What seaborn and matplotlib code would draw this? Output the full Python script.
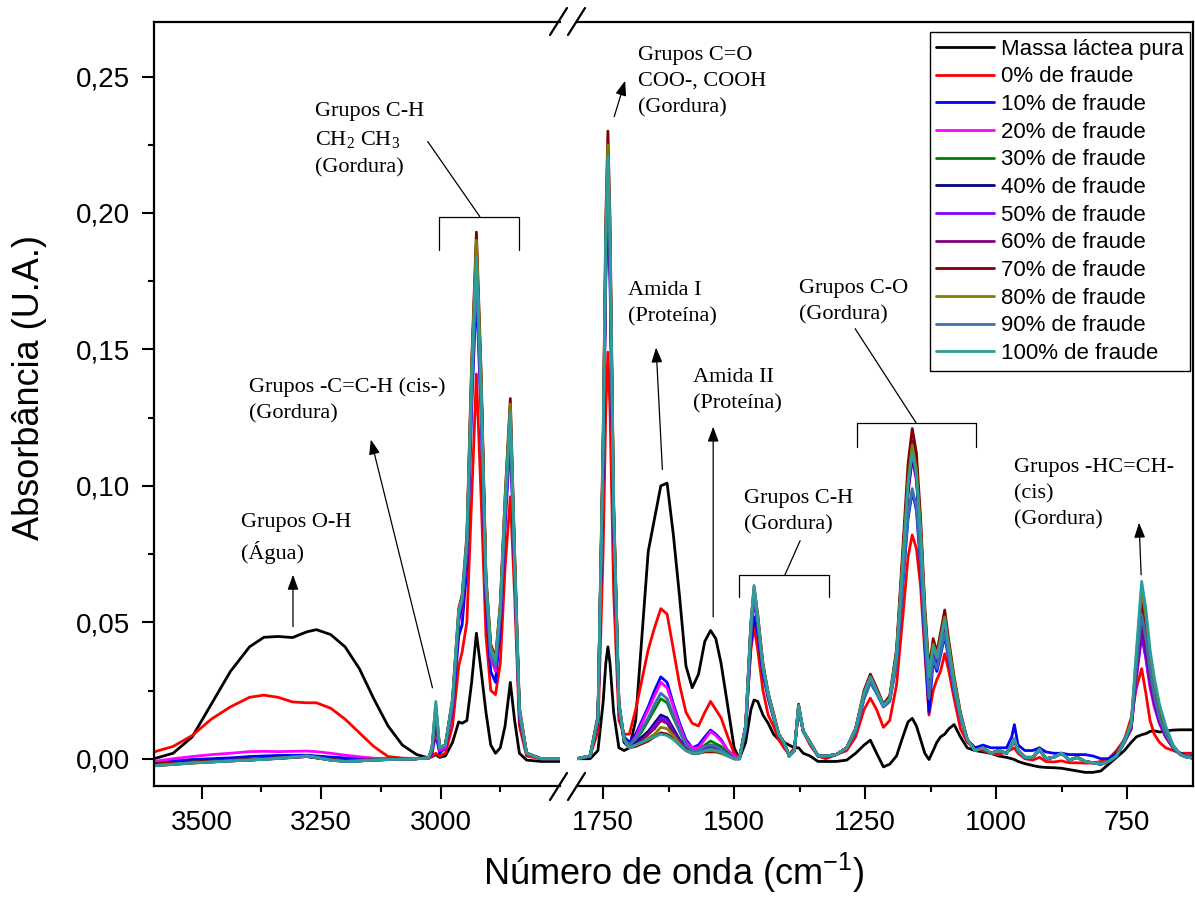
import matplotlib
matplotlib.use('Agg')
import matplotlib.pyplot as plt
import matplotlib.ticker as ticker
from matplotlib.lines import Line2D
import seaborn as sns
import pandas as pd

# numero de onda (cm-1) de cada painel
wn_esq = [3600, 3560, 3520, 3480, 3440, 3400, 3370, 3340, 3310, 3280,
          3260, 3230, 3200, 3170, 3140, 3110, 3080, 3050, 3025, 3018,
          3010, 3002, 2990, 2975, 2962, 2955, 2945, 2935, 2925, 2915,
          2905, 2895, 2885, 2875, 2865, 2854, 2845, 2835, 2820, 2790,
          2750]
wn_dir = [1800, 1775, 1760, 1750, 1745, 1741, 1737, 1730, 1720, 1710,
          1700, 1688, 1676, 1664, 1652, 1640, 1628, 1616, 1604, 1592,
          1580, 1568, 1556, 1545, 1535, 1525, 1512, 1500, 1490, 1478,
          1468, 1462, 1455, 1445, 1435, 1425, 1415, 1405, 1395, 1385,
          1377, 1368, 1355, 1340, 1325, 1305, 1285, 1268, 1252, 1240,
          1228, 1215, 1203, 1190, 1178, 1168, 1160, 1152, 1144, 1136,
          1128, 1120, 1113, 1106, 1098, 1090, 1080, 1068, 1055, 1040,
          1025, 1010, 995, 980, 970, 965, 958, 945, 930, 917,
          905, 890, 875, 860, 845, 830, 815, 800, 785, 770,
          755, 742, 732, 722, 714, 706, 698, 688, 676, 662,
          648, 635, 625]

# absorbancia - regiao 3600-2750
pura_esq = [0.000, 0.002, 0.008, 0.020, 0.032, 0.041, 0.0445, 0.0448, 0.0444, 0.0465,
            0.0473, 0.0455, 0.041, 0.033, 0.022, 0.012, 0.005, 0.0015, 0.0003, 0.0008,
            0.0015, 0.0005, 0.001, 0.006, 0.0135, 0.013, 0.014, 0.028, 0.046, 0.032,
            0.017, 0.005, 0.002, 0.004, 0.012, 0.028, 0.014, 0.002, -0.0005, -0.001,
            -0.001]
f0_esq = [0.0025, 0.0045, 0.0085, 0.0145, 0.019, 0.0225, 0.0233, 0.0225, 0.0208, 0.0205,
          0.0205, 0.0185, 0.0145, 0.0095, 0.0045, 0.0008, 0.0002, 0.0001, 0.0002, 0.0008,
          0.002, 0.001, 0.002, 0.012, 0.034, 0.039, 0.050, 0.095, 0.141, 0.095,
          0.045, 0.025, 0.0235, 0.035, 0.070, 0.096, 0.060, 0.012, 0.001, 0.000,
          0.000]
f10_esq = [-0.001, -0.0008, -0.0003, 0.0, 0.0003, 0.0008, 0.001, 0.0012, 0.0012, 0.0013,
           0.001, 0.0006, 0.0003, 0.0001, 0.0, 0.0, 0.0, 0.0, 0.0002, 0.002,
           0.009, 0.002, 0.004, 0.018, 0.045, 0.049, 0.070, 0.128, 0.172, 0.125,
           0.058, 0.032, 0.028, 0.048, 0.085, 0.118, 0.068, 0.015, 0.002, 0.000,
           0.000]
f20_esq = [-0.001, 0.0, 0.0008, 0.0015, 0.002, 0.0026, 0.0027, 0.0026, 0.0027, 0.0028,
           0.0026, 0.002, 0.0013, 0.0007, 0.0002, 0.0, 0.0, 0.0, 0.0002, 0.0025,
           0.011, 0.003, 0.004, 0.019, 0.050, 0.055, 0.075, 0.134, 0.180, 0.130,
           0.062, 0.037, 0.032, 0.052, 0.088, 0.122, 0.070, 0.016, 0.002, 0.000,
           0.000]
f30_esq = [-0.002, -0.0016, -0.0012, -0.0009, -0.0006, -0.0003, 0.0, 0.0003, 0.0006, 0.0009,
           0.0004, -0.0003, -0.0007, -0.0006, -0.0004, -0.0002, -0.0001, 0.0, 0.0003, 0.003,
           0.013, 0.004, 0.005, 0.020, 0.052, 0.057, 0.078, 0.138, 0.186, 0.136,
           0.064, 0.039, 0.034, 0.054, 0.091, 0.126, 0.072, 0.017, 0.002, 0.000,
           0.000]
f40_esq = [-0.0022, -0.0018, -0.0014, -0.001, -0.0007, -0.0004, -0.0001, 0.0002, 0.0005, 0.0008,
           0.0003, -0.0004, -0.0008, -0.0007, -0.0005, -0.0003, -0.0002, 0.0, 0.0003, 0.003,
           0.015, 0.004, 0.005, 0.020, 0.051, 0.056, 0.077, 0.137, 0.183, 0.134,
           0.063, 0.039, 0.034, 0.053, 0.090, 0.124, 0.071, 0.017, 0.002, 0.000,
           0.000]
f50_esq = [-0.0024, -0.002, -0.0015, -0.0011, -0.0008, -0.0005, -0.0002, 0.0001, 0.0004, 0.0008,
           0.0003, -0.0005, -0.0009, -0.0008, -0.0005, -0.0003, -0.0002, 0.0, 0.0003, 0.0035,
           0.016, 0.004, 0.005, 0.021, 0.052, 0.057, 0.078, 0.139, 0.185, 0.135,
           0.064, 0.039, 0.035, 0.054, 0.091, 0.125, 0.072, 0.017, 0.002, 0.000,
           0.000]
f60_esq = [-0.0026, -0.0021, -0.0016, -0.0012, -0.0008, -0.0005, -0.0002, 0.0001, 0.0005, 0.0009,
           0.0004, -0.0005, -0.001, -0.0008, -0.0005, -0.0003, -0.0002, 0.0, 0.0003, 0.0035,
           0.017, 0.004, 0.005, 0.021, 0.053, 0.058, 0.079, 0.141, 0.188, 0.137,
           0.065, 0.040, 0.035, 0.055, 0.093, 0.128, 0.073, 0.018, 0.002, 0.000,
           0.000]
f70_esq = [-0.0018, -0.0015, -0.0012, -0.0009, -0.0006, -0.0003, 0.0, 0.0003, 0.0006, 0.0009,
           0.0004, -0.0003, -0.0007, -0.0006, -0.0004, -0.0002, -0.0001, 0.0, 0.0003, 0.004,
           0.019, 0.004, 0.005, 0.022, 0.055, 0.060, 0.082, 0.145, 0.193, 0.141,
           0.067, 0.042, 0.037, 0.057, 0.096, 0.132, 0.076, 0.019, 0.002, 0.000,
           0.000]
f80_esq = [-0.0026, -0.0021, -0.0016, -0.0012, -0.0008, -0.0005, -0.0002, 0.0001, 0.0005, 0.0009,
           0.0004, -0.0005, -0.001, -0.0008, -0.0005, -0.0003, -0.0002, 0.0, 0.0003, 0.0035,
           0.018, 0.004, 0.005, 0.021, 0.054, 0.059, 0.080, 0.143, 0.190, 0.139,
           0.066, 0.041, 0.036, 0.056, 0.095, 0.130, 0.075, 0.018, 0.002, 0.000,
           0.000]
f90_esq = [-0.0025, -0.002, -0.0015, -0.0012, -0.0008, -0.0005, -0.0002, 0.0002, 0.0006, 0.001,
           0.0005, -0.0005, -0.001, -0.0008, -0.0005, -0.0003, -0.0002, 0.0, 0.0003, 0.004,
           0.020, 0.004, 0.005, 0.020, 0.053, 0.058, 0.077, 0.134, 0.178, 0.130,
           0.062, 0.038, 0.034, 0.053, 0.090, 0.124, 0.071, 0.017, 0.002, 0.000,
           0.000]
f100_esq = [-0.0025, -0.002, -0.0015, -0.0012, -0.0008, -0.0005, -0.0002, 0.0002, 0.0006, 0.001,
            0.0005, -0.0005, -0.001, -0.0008, -0.0005, -0.0003, -0.0002, 0.0, 0.0003, 0.004,
            0.021, 0.004, 0.005, 0.022, 0.054, 0.059, 0.080, 0.140, 0.184, 0.135,
            0.065, 0.040, 0.036, 0.055, 0.093, 0.127, 0.073, 0.018, 0.002, 0.000,
            0.000]

# absorbancia - regiao 1800-625
pura_dir = [0.000, 0.000, 0.003, 0.021, 0.035, 0.041, 0.035, 0.017, 0.004, 0.003,
            0.004, 0.014, 0.045, 0.076, 0.088, 0.100, 0.101, 0.082, 0.059, 0.034,
            0.026, 0.031, 0.043, 0.047, 0.044, 0.035, 0.019, 0.004, 0.000, 0.006,
            0.018, 0.0215, 0.021, 0.016, 0.013, 0.009, 0.007, 0.006, 0.005, 0.004,
            0.004, 0.002, 0.001, -0.001, -0.001, -0.001, -0.0005, 0.002, 0.005, 0.0068,
            0.002, -0.003, -0.002, 0.001, 0.008, 0.0135, 0.0148, 0.012, 0.007, 0.002,
            -0.0003, 0.003, 0.006, 0.008, 0.009, 0.011, 0.0125, 0.008, 0.004, 0.003,
            0.0025, 0.002, 0.001, 0.0005, 0.0, -0.0003, -0.001, -0.0018, -0.0025, -0.003,
            -0.0032, -0.0033, -0.0035, -0.004, -0.0045, -0.005, -0.005, -0.0045, -0.002, 0.0005,
            0.003, 0.006, 0.008, 0.0088, 0.0092, 0.010, 0.0102, 0.0098, 0.0102, 0.0105,
            0.0106, 0.0106, 0.0106]
f0_dir = [0.000, 0.001, 0.010, 0.077, 0.128, 0.149, 0.128, 0.061, 0.014, 0.009,
          0.009, 0.018, 0.029, 0.040, 0.048, 0.055, 0.053, 0.040, 0.027, 0.017,
          0.013, 0.012, 0.017, 0.021, 0.018, 0.015, 0.008, 0.002, 0.000, 0.012,
          0.040, 0.0485, 0.040, 0.025, 0.016, 0.012, 0.007, 0.004, 0.0015, 0.004,
          0.018, 0.010, 0.005, 0.001, 0.000, 0.0015, 0.003, 0.008, 0.018, 0.0222,
          0.018, 0.0115, 0.014, 0.027, 0.052, 0.074, 0.082, 0.077, 0.063, 0.039,
          0.016, 0.025, 0.029, 0.032, 0.0385, 0.032, 0.022, 0.011, 0.006, 0.004,
          0.003, 0.002, 0.0015, 0.0025, 0.0035, 0.004, 0.002, 0.000, -0.0005, 0.0005,
          -0.001, -0.0012, -0.0008, -0.0015, -0.0015, -0.0016, -0.0016, -0.001, 0.000, 0.003,
          0.007, 0.015, 0.026, 0.033, 0.024, 0.014, 0.009, 0.006, 0.004, 0.003,
          0.002, 0.002, 0.002]
f10_dir = [0.000, 0.001, 0.014, 0.107, 0.176, 0.205, 0.176, 0.084, 0.018, 0.008,
           0.006, 0.009, 0.014, 0.019, 0.025, 0.030, 0.028, 0.020, 0.013, 0.007,
           0.004, 0.005, 0.008, 0.0105, 0.009, 0.007, 0.003, 0.001, 0.000, 0.010,
           0.042, 0.052, 0.046, 0.031, 0.022, 0.015, 0.009, 0.006, 0.001, 0.003,
           0.018, 0.010, 0.006, 0.001, 0.001, 0.0015, 0.004, 0.010, 0.022, 0.028,
           0.024, 0.019, 0.021, 0.035, 0.064, 0.088, 0.098, 0.091, 0.070, 0.042,
           0.017, 0.036, 0.032, 0.038, 0.045, 0.036, 0.025, 0.015, 0.007, 0.004,
           0.005, 0.004, 0.004, 0.004, 0.008, 0.0125, 0.005, 0.003, 0.003, 0.004,
           0.0025, 0.002, 0.002, 0.0015, 0.0015, 0.0015, 0.001, 0.000, 0.000, 0.002,
           0.006, 0.011, 0.032, 0.050, 0.040, 0.028, 0.020, 0.013, 0.008, 0.004,
           0.002, 0.001, 0.001]
f20_dir = [0.000, 0.001, 0.014, 0.109, 0.181, 0.210, 0.181, 0.086, 0.019, 0.007,
           0.005, 0.008, 0.013, 0.018, 0.023, 0.028, 0.026, 0.019, 0.012, 0.006,
           0.004, 0.004, 0.007, 0.010, 0.0085, 0.0065, 0.003, 0.001, 0.000, 0.011,
           0.046, 0.058, 0.049, 0.033, 0.023, 0.016, 0.009, 0.006, 0.001, 0.003,
           0.019, 0.010, 0.006, 0.001, 0.001, 0.0015, 0.004, 0.011, 0.023, 0.029,
           0.025, 0.019, 0.022, 0.037, 0.070, 0.097, 0.110, 0.102, 0.079, 0.048,
           0.024, 0.038, 0.034, 0.040, 0.047, 0.038, 0.026, 0.015, 0.007, 0.003,
           0.004, 0.002, 0.003, 0.002, 0.005, 0.007, 0.003, 0.0005, 0.0005, 0.003,
           0.000, 0.0005, 0.002, -0.0005, 0.0005, -0.001, -0.0015, -0.0015, -0.001, 0.001,
           0.006, 0.011, 0.030, 0.046, 0.037, 0.026, 0.019, 0.013, 0.008, 0.004,
           0.0015, 0.001, 0.0005]
f30_dir = [0.000, 0.001, 0.015, 0.112, 0.185, 0.215, 0.185, 0.088, 0.019, 0.006,
           0.005, 0.007, 0.010, 0.014, 0.018, 0.022, 0.0205, 0.015, 0.010, 0.005,
           0.003, 0.003, 0.005, 0.0065, 0.0055, 0.0045, 0.002, 0.000, 0.000, 0.012,
           0.048, 0.060, 0.050, 0.033, 0.023, 0.016, 0.009, 0.006, 0.001, 0.003,
           0.019, 0.010, 0.006, 0.001, 0.001, 0.0015, 0.004, 0.011, 0.0235, 0.0295,
           0.025, 0.0195, 0.022, 0.038, 0.071, 0.099, 0.112, 0.104, 0.081, 0.050,
           0.028, 0.039, 0.035, 0.041, 0.049, 0.039, 0.027, 0.016, 0.007, 0.003,
           0.004, 0.002, 0.003, 0.002, 0.005, 0.007, 0.003, 0.0005, 0.0005, 0.0035,
           0.000, 0.0005, 0.002, -0.0005, 0.0005, -0.001, -0.0015, -0.002, -0.001, 0.001,
           0.007, 0.012, 0.035, 0.055, 0.045, 0.032, 0.023, 0.015, 0.009, 0.004,
           0.0015, 0.0005, 0.0003]
f40_dir = [0.000, 0.001, 0.014, 0.110, 0.182, 0.212, 0.182, 0.087, 0.019, 0.006,
           0.004, 0.006, 0.008, 0.010, 0.013, 0.016, 0.015, 0.011, 0.007, 0.004,
           0.0025, 0.0025, 0.004, 0.005, 0.0045, 0.0035, 0.0015, 0.000, 0.000, 0.012,
           0.047, 0.059, 0.050, 0.033, 0.023, 0.016, 0.009, 0.006, 0.001, 0.003,
           0.019, 0.010, 0.006, 0.001, 0.001, 0.0015, 0.004, 0.011, 0.023, 0.029,
           0.025, 0.0195, 0.022, 0.038, 0.071, 0.098, 0.111, 0.103, 0.080, 0.049,
           0.027, 0.039, 0.035, 0.041, 0.048, 0.039, 0.027, 0.016, 0.007, 0.003,
           0.004, 0.002, 0.003, 0.002, 0.005, 0.007, 0.003, 0.0005, 0.0005, 0.0035,
           0.000, 0.0005, 0.002, -0.0005, 0.0005, -0.001, -0.0015, -0.002, -0.001, 0.001,
           0.007, 0.012, 0.033, 0.052, 0.043, 0.031, 0.022, 0.014, 0.009, 0.004,
           0.0015, 0.0005, 0.0003]
f50_dir = [0.000, 0.001, 0.015, 0.113, 0.187, 0.218, 0.187, 0.089, 0.020, 0.007,
           0.004, 0.005, 0.007, 0.009, 0.012, 0.015, 0.014, 0.010, 0.0065, 0.0035,
           0.0025, 0.0025, 0.0035, 0.0045, 0.004, 0.003, 0.0015, 0.000, 0.000, 0.012,
           0.048, 0.060, 0.051, 0.034, 0.023, 0.016, 0.009, 0.006, 0.001, 0.003,
           0.019, 0.010, 0.006, 0.001, 0.001, 0.0015, 0.004, 0.011, 0.0235, 0.029,
           0.025, 0.0195, 0.022, 0.038, 0.072, 0.100, 0.113, 0.105, 0.082, 0.051,
           0.028, 0.040, 0.036, 0.042, 0.049, 0.040, 0.028, 0.016, 0.007, 0.003,
           0.004, 0.002, 0.003, 0.002, 0.005, 0.007, 0.003, 0.0005, 0.0005, 0.0035,
           0.000, 0.0005, 0.002, -0.0005, 0.0005, -0.001, -0.0015, -0.002, -0.001, 0.001,
           0.006, 0.011, 0.030, 0.045, 0.037, 0.027, 0.020, 0.013, 0.008, 0.004,
           0.0015, 0.0005, 0.0003]
f60_dir = [0.000, 0.001, 0.015, 0.115, 0.191, 0.222, 0.191, 0.091, 0.020, 0.007,
           0.004, 0.005, 0.007, 0.009, 0.011, 0.014, 0.013, 0.0095, 0.006, 0.0035,
           0.002, 0.002, 0.003, 0.004, 0.0035, 0.003, 0.0012, 0.000, 0.000, 0.012,
           0.049, 0.061, 0.051, 0.034, 0.024, 0.016, 0.009, 0.006, 0.001, 0.003,
           0.0195, 0.010, 0.006, 0.001, 0.001, 0.0015, 0.004, 0.011, 0.024, 0.030,
           0.025, 0.0195, 0.022, 0.039, 0.074, 0.103, 0.1165, 0.108, 0.085, 0.053,
           0.030, 0.042, 0.037, 0.043, 0.051, 0.041, 0.028, 0.016, 0.007, 0.003,
           0.004, 0.002, 0.003, 0.002, 0.005, 0.007, 0.003, 0.0005, 0.0005, 0.0035,
           0.000, 0.0005, 0.002, -0.0005, 0.0005, -0.001, -0.0015, -0.002, -0.001, 0.001,
           0.006, 0.012, 0.032, 0.048, 0.040, 0.029, 0.021, 0.014, 0.008, 0.004,
           0.0015, 0.0005, 0.0003]
f70_dir = [0.000, 0.001, 0.016, 0.120, 0.198, 0.230, 0.198, 0.094, 0.021, 0.007,
           0.004, 0.0045, 0.0055, 0.0065, 0.008, 0.0095, 0.009, 0.0075, 0.005, 0.003,
           0.002, 0.002, 0.0025, 0.0025, 0.0025, 0.002, 0.001, 0.000, 0.000, 0.012,
           0.050, 0.063, 0.053, 0.035, 0.024, 0.017, 0.009, 0.006, 0.001, 0.003,
           0.020, 0.010, 0.006, 0.001, 0.001, 0.0015, 0.004, 0.011, 0.025, 0.031,
           0.026, 0.020, 0.023, 0.040, 0.077, 0.108, 0.121, 0.112, 0.088, 0.056,
           0.033, 0.044, 0.039, 0.046, 0.0545, 0.043, 0.030, 0.017, 0.007, 0.003,
           0.004, 0.002, 0.003, 0.002, 0.005, 0.007, 0.003, 0.0005, 0.0005, 0.0035,
           0.000, 0.0005, 0.002, -0.0005, 0.0005, -0.001, -0.0015, -0.002, -0.001, 0.001,
           0.007, 0.012, 0.036, 0.058, 0.048, 0.035, 0.026, 0.017, 0.010, 0.004,
           0.0015, 0.0005, 0.0003]
f80_dir = [0.000, 0.001, 0.015, 0.117, 0.194, 0.225, 0.194, 0.092, 0.020, 0.007,
           0.004, 0.005, 0.006, 0.0075, 0.009, 0.0115, 0.011, 0.0085, 0.0055, 0.003,
           0.002, 0.002, 0.0028, 0.003, 0.0028, 0.0022, 0.001, 0.000, 0.000, 0.012,
           0.049, 0.062, 0.052, 0.034, 0.024, 0.016, 0.009, 0.006, 0.001, 0.003,
           0.0195, 0.010, 0.006, 0.001, 0.001, 0.0015, 0.004, 0.011, 0.024, 0.030,
           0.025, 0.0195, 0.022, 0.039, 0.073, 0.102, 0.115, 0.106, 0.084, 0.053,
           0.031, 0.042, 0.038, 0.044, 0.052, 0.041, 0.029, 0.016, 0.007, 0.003,
           0.004, 0.002, 0.003, 0.002, 0.005, 0.007, 0.003, 0.0005, 0.0005, 0.0035,
           0.000, 0.0005, 0.002, -0.0005, 0.0005, -0.001, -0.0015, -0.002, -0.001, 0.001,
           0.007, 0.013, 0.038, 0.062, 0.052, 0.038, 0.028, 0.019, 0.011, 0.005,
           0.0015, 0.0005, 0.0003]
f90_dir = [0.000, 0.001, 0.015, 0.114, 0.188, 0.219, 0.188, 0.090, 0.020, 0.007,
           0.005, 0.007, 0.011, 0.015, 0.020, 0.024, 0.022, 0.016, 0.010, 0.005,
           0.003, 0.003, 0.0045, 0.005, 0.0045, 0.0035, 0.0015, 0.000, 0.000, 0.011,
           0.046, 0.060, 0.050, 0.033, 0.023, 0.016, 0.009, 0.006, 0.001, 0.003,
           0.019, 0.010, 0.006, 0.001, 0.001, 0.0015, 0.004, 0.010, 0.022, 0.028,
           0.024, 0.019, 0.021, 0.035, 0.065, 0.089, 0.099, 0.092, 0.072, 0.044,
           0.022, 0.037, 0.033, 0.039, 0.046, 0.037, 0.025, 0.015, 0.007, 0.003,
           0.004, 0.002, 0.003, 0.002, 0.005, 0.007, 0.003, 0.0005, 0.0005, 0.0035,
           0.000, 0.0005, 0.002, -0.0005, 0.0005, -0.001, -0.0015, -0.002, -0.001, 0.001,
           0.007, 0.012, 0.034, 0.053, 0.044, 0.032, 0.023, 0.015, 0.009, 0.004,
           0.0015, 0.0005, 0.0003]
f100_dir = [0.000, 0.001, 0.015, 0.115, 0.190, 0.221, 0.190, 0.091, 0.020, 0.007,
            0.004, 0.005, 0.006, 0.007, 0.008, 0.009, 0.0085, 0.007, 0.005, 0.003,
            0.002, 0.002, 0.003, 0.0035, 0.003, 0.0025, 0.001, 0.000, 0.000, 0.012,
            0.050, 0.0635, 0.052, 0.034, 0.024, 0.016, 0.009, 0.006, 0.001, 0.003,
            0.0195, 0.010, 0.006, 0.001, 0.001, 0.0015, 0.004, 0.011, 0.024, 0.030,
            0.025, 0.0195, 0.022, 0.038, 0.072, 0.100, 0.1125, 0.104, 0.082, 0.052,
            0.030, 0.041, 0.037, 0.043, 0.051, 0.040, 0.028, 0.016, 0.007, 0.003,
            0.004, 0.002, 0.003, 0.002, 0.005, 0.0075, 0.003, 0.0005, 0.0005, 0.0035,
            0.000, 0.0005, 0.002, -0.0005, 0.0005, -0.001, -0.0015, -0.002, -0.001, 0.001,
            0.006, 0.013, 0.040, 0.065, 0.055, 0.040, 0.030, 0.020, 0.012, 0.005,
            0.0015, 0.0005, 0.0003]

rotulos = ['Massa láctea pura', '0% de fraude', '10% de fraude', '20% de fraude',
           '30% de fraude', '40% de fraude', '50% de fraude', '60% de fraude',
           '70% de fraude', '80% de fraude', '90% de fraude', '100% de fraude']
cores = ['#000000', '#ff0000', '#0000ff', '#ff00ff', '#008000', '#000080',
         '#8000ff', '#800080', '#800000', '#808000', '#3a6fb0', '#2f9c9c']

esq = [pura_esq, f0_esq, f10_esq, f20_esq, f30_esq, f40_esq, f50_esq, f60_esq,
       f70_esq, f80_esq, f90_esq, f100_esq]
dire = [pura_dir, f0_dir, f10_dir, f20_dir, f30_dir, f40_dir, f50_dir, f60_dir,
        f70_dir, f80_dir, f90_dir, f100_dir]

partes_e, partes_d = [], []
for nome, ye, yd in zip(rotulos, esq, dire):
    if len(ye) != len(wn_esq) or len(yd) != len(wn_dir):
        raise ValueError(f'{nome}: {len(ye)} / {len(yd)}')
    partes_e.append(pd.DataFrame({'wn': wn_esq, 'abs': ye, 'serie': nome}))
    partes_d.append(pd.DataFrame({'wn': wn_dir, 'abs': yd, 'serie': nome}))
df_e = pd.concat(partes_e, ignore_index=True)
df_d = pd.concat(partes_d, ignore_index=True)

sns.set_style('ticks')
plt.rcParams['font.family'] = ['Liberation Sans', 'DejaVu Sans']
plt.rcParams['mathtext.fontset'] = 'custom'
plt.rcParams['mathtext.rm'] = 'Liberation Serif'
plt.rcParams['mathtext.sf'] = 'Liberation Sans'
for chave_rc in ['text.color', 'axes.labelcolor', 'xtick.color', 'ytick.color',
                 'axes.edgecolor']:
    plt.rcParams[chave_rc] = 'black'

W, H = 1195, 901
fig = plt.figure(figsize=(W / 100, H / 100), dpi=100)
y0, y1 = 1 - 786 / H, 1 - 22 / H
ax1 = fig.add_axes([154 / W, y0, (560 - 154) / W, y1 - y0])
ax2 = fig.add_axes([577 / W, y0, (1193 - 577) / W, y1 - y0])

paleta = dict(zip(rotulos, cores))
for ax, df in [(ax1, df_e), (ax2, df_d)]:
    sns.lineplot(data=df, x='wn', y='abs', hue='serie', hue_order=rotulos,
                 palette=paleta, estimator=None, sort=False, lw=2,
                 legend=False, ax=ax)
    ax.set_ylim(-0.01, 0.27)
    ax.set_xlabel('')
    ax.set_ylabel('')
    for s in ax.spines.values():
        s.set_linewidth(1.6)
        s.set_color('k')
    ax.tick_params(axis='both', which='major', direction='out', length=9,
                   width=1.5, labelsize=20, pad=8, colors='k')
    ax.tick_params(axis='both', which='minor', direction='out', length=4.5,
                   width=1.5, colors='k')

ax1.set_xlim(3600, 2750)
ax1.set_xticks([3500, 3250, 3000])
ax1.set_xticks([3375, 3125, 2875], minor=True)
ax1.set_yticks([0, 0.05, 0.10, 0.15, 0.20, 0.25])
ax1.set_yticks([0.025, 0.075, 0.125, 0.175, 0.225], minor=True)
ax1.yaxis.set_major_formatter(ticker.FuncFormatter(lambda v, p: f'{v:.2f}'.replace('.', ',')))
ax1.spines['right'].set_visible(False)

ax2.set_xlim(1800, 624)
ax2.set_xticks([1750, 1500, 1250, 1000, 750])
ax2.set_xticks([1625, 1375, 1125, 875], minor=True)
ax2.spines['left'].set_visible(False)
ax2.tick_params(axis='y', which='both', left=False, labelleft=False)

# marcas de quebra do eixo
for ya, yb in [(800, 773), (35, 8)]:
    for xa in (550, 568):
        fig.add_artist(Line2D([xa / W, (xa + 17) / W], [1 - ya / H, 1 - yb / H],
                              color='k', lw=1.6, transform=fig.transFigure))

serif = 'Liberation Serif'
kw = dict(family=serif, fontsize=16, va='top', ha='left', linespacing=1.5)
seta_kw = dict(arrowstyle='-|>,head_length=0.6,head_width=0.22', color='k',
               lw=0.9, mutation_scale=15, shrinkA=0, shrinkB=0)


def seta(ax, xa, ya, xb, yb):
    ax.annotate('', xy=(xb, yb), xytext=(xa, ya), arrowprops=seta_kw,
                annotation_clip=False)


def chave(ax, xa, xb, ylo, yhi):
    ax.plot([xa, xa, xb, xb], [ylo, yhi, yhi, ylo], color='k', lw=0.9,
            clip_on=False)


# painel esquerdo
ax1.text(3262, 0.2405, 'Grupos C-H\nCH$_2$ CH$_3$\n(Gordura)', **kw)
ax1.plot([3027, 2918], [0.2262, 0.1987], color='k', lw=0.9)
chave(ax1, 3004, 2835, 0.1866, 0.1987)
ax1.text(3402, 0.1397, 'Grupos -C=C-H (cis-)\n(Gordura)', **kw)
seta(ax1, 3017, 0.026, 3146, 0.117)
ax1.text(3418, 0.0902, 'Grupos O-H\n(Água)', **kw)
seta(ax1, 3309, 0.0484, 3309, 0.0674)

# painel direito
ax2.text(1683, 0.2612, 'Grupos C=O\nCOO-, COOH\n(Gordura)', **kw)
seta(ax2, 1729, 0.2353, 1708, 0.2485)
ax2.text(1702, 0.1752, 'Amida I\n(Proteína)', **kw)
seta(ax2, 1637, 0.106, 1649, 0.1507)
ax2.text(1578, 0.1432, 'Amida II\n(Proteína)', **kw)
seta(ax2, 1540, 0.052, 1540, 0.1217)
ax2.text(1481, 0.0987, 'Grupos C-H\n(Gordura)', **kw)
ax2.plot([1374, 1403], [0.0799, 0.0674], color='k', lw=0.9)
chave(ax2, 1490, 1319, 0.0594, 0.0674)
ax2.text(1376, 0.1757, 'Grupos C-O\n(Gordura)', **kw)
ax2.plot([1269, 1153], [0.1576, 0.1232], color='k', lw=0.9)
chave(ax2, 1265, 1038, 0.1144, 0.1232)
ax2.text(966, 0.1102, 'Grupos -HC=CH-\n(cis)\n(Gordura)', **kw)
seta(ax2, 723, 0.0674, 727, 0.0865)

# legenda
alcas = [Line2D([0], [0], color=c, lw=2) for c in cores]
leg = fig.legend(alcas, rotulos, loc='upper right',
                 bbox_to_anchor=(1190 / W, 1 - 32 / H), frameon=True,
                 fancybox=False, framealpha=1, edgecolor='k', fontsize=16,
                 handlelength=2.6, handletextpad=0.3, labelspacing=0.3,
                 borderpad=0.3, borderaxespad=0)
leg.get_frame().set_linewidth(1.0)

fig.text((154 + 1193) / 2 / W, 1 - 885 / H, 'Número de onda (cm$^{\\mathsf{-1}}$)',
         fontsize=26, ha='center', va='baseline')
fig.text(30 / W, 1 - 388 / H, 'Absorbância (U.A.)', fontsize=26, rotation=90,
         ha='center', va='center')

fig.savefig('out.png', dpi=100)
